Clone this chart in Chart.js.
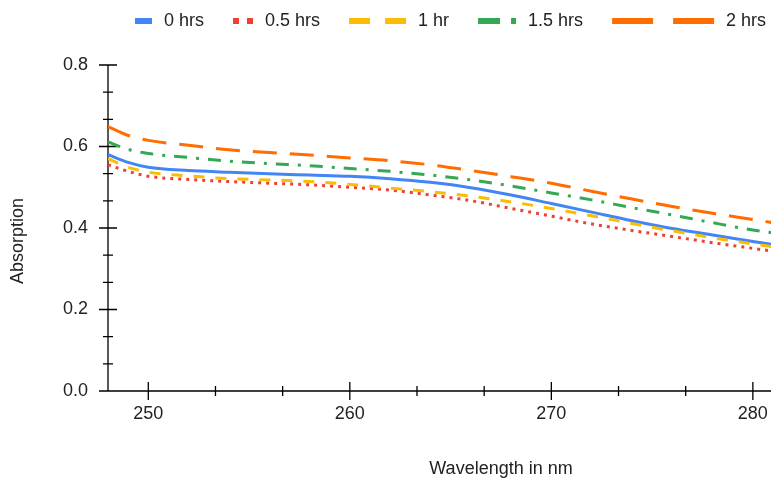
<!DOCTYPE html>
<html><head><meta charset="utf-8">
<script src="https://cdn.jsdelivr.net/npm/chart.js@4"></script>
<style>html,body{margin:0;padding:0;background:#fff}canvas{display:block}</style>
</head><body>
<canvas id="c" width="771" height="481"></canvas>
<script>
// ---- data ----
const wavelengths = [248, 249, 250, 252, 254, 256, 258, 260, 262, 264, 266, 268, 270, 272, 274, 276, 278, 280, 281];
const hrs0  = [0.580, 0.561, 0.549, 0.541, 0.537, 0.533, 0.530, 0.527, 0.521, 0.512, 0.499, 0.481, 0.460, 0.439, 0.418, 0.399, 0.383, 0.367, 0.359];
const hrs05 = [0.555, 0.539, 0.527, 0.519, 0.514, 0.510, 0.506, 0.500, 0.493, 0.481, 0.467, 0.448, 0.429, 0.410, 0.394, 0.379, 0.364, 0.350, 0.343];
const hrs1  = [0.570, 0.549, 0.537, 0.528, 0.521, 0.518, 0.514, 0.507, 0.498, 0.489, 0.478, 0.464, 0.448, 0.430, 0.411, 0.393, 0.376, 0.361, 0.354];
const hrs15 = [0.611, 0.593, 0.583, 0.573, 0.564, 0.558, 0.553, 0.546, 0.539, 0.530, 0.518, 0.503, 0.486, 0.469, 0.450, 0.432, 0.413, 0.395, 0.388];
const hrs2  = [0.649, 0.627, 0.615, 0.603, 0.592, 0.585, 0.579, 0.572, 0.565, 0.555, 0.541, 0.526, 0.510, 0.490, 0.471, 0.453, 0.436, 0.421, 0.413];
const seriesLabels = ['0 hrs', '0.5 hrs', '1 hr', '1.5 hrs', '2 hrs'];
const xTickLabels = [250, 260, 270, 280];
const yTickLabels = [0, 0.2, 0.4, 0.6, 0.8];
const xTitle = 'Wavelength in nm';
const yTitle = 'Absorption';

// ---- styles ----
const FONT = "'Liberation Sans', Arial, sans-serif";
const TEXT = '#222';
const styles = [
  {color: '#4285F4', dash: [],            legendDash: [],             legendW: 17},
  {color: '#EA4335', dash: [3, 5],        legendDash: [6, 8],         legendW: 20},
  {color: '#FBBC04', dash: [11, 11],      legendDash: [21, 15],       legendW: 57},
  {color: '#34A853', dash: [13, 9, 3, 9], legendDash: [22, 11, 5, 11], legendW: 38},
  {color: '#FF6D01', dash: [24, 13],      legendDash: [41, 20],       legendW: 102}
];
const seriesValues = [hrs0, hrs05, hrs1, hrs15, hrs2];

const datasets = seriesValues.map((vals, i) => ({
  label: seriesLabels[i],
  data: wavelengths.map((w, j) => ({x: w, y: vals[j]})),
  borderColor: styles[i].color,
  backgroundColor: styles[i].color,
  borderWidth: 3,
  borderDash: styles[i].dash,
  borderCapStyle: 'butt',
  pointRadius: 0,
  fill: false,
  cubicInterpolationMode: 'monotone',
  order: seriesValues.length - i
}));

const decor = {
  id: 'decor',
  beforeDatasetsDraw(chart) {
    const {ctx, chartArea: a, scales: {x, y}} = chart;
    ctx.save();
    ctx.strokeStyle = '#000';
    ctx.lineWidth = 1.3;
    ctx.beginPath();
    const seg = (x1, y1, x2, y2) => { ctx.moveTo(x1, y1); ctx.lineTo(x2, y2); };
    seg(a.left, a.top, a.left, a.bottom);
    seg(a.left, a.bottom, a.right, a.bottom);
    const ys = yTickLabels[1] - yTickLabels[0];
    yTickLabels.forEach((v, i) => {
      const p = y.getPixelForValue(v);
      seg(a.left - 9, p, a.left + 9, p);
      if (i < yTickLabels.length - 1) {
        for (let k = 1; k < 3; k++) {
          const q = y.getPixelForValue(v + ys * k / 3);
          seg(a.left - 5, q, a.left + 5, q);
        }
      }
    });
    const xs = xTickLabels[1] - xTickLabels[0];
    xTickLabels.forEach((v, i) => {
      const p = x.getPixelForValue(v);
      seg(p, a.bottom - 9, p, a.bottom + 9);
      if (i < xTickLabels.length - 1) {
        for (let k = 1; k < 3; k++) {
          const q = x.getPixelForValue(v + xs * k / 3);
          seg(q, a.bottom - 5, q, a.bottom + 5);
        }
      }
    });
    ctx.stroke();
    ctx.restore();
  },
  afterDraw(chart) {
    const {ctx} = chart;
    ctx.save();
    ctx.font = `18px ${FONT}`;
    ctx.fillStyle = TEXT;
    ctx.textBaseline = 'middle';
    ctx.textAlign = 'left';
    // legend
    let cx = 135;
    const ly = 21;
    chart.data.datasets.forEach((ds, i) => {
      const st = styles[i];
      ctx.save();
      ctx.strokeStyle = ds.borderColor;
      ctx.lineWidth = 6;
      ctx.lineCap = 'butt';
      ctx.setLineDash(st.legendDash);
      ctx.beginPath();
      ctx.moveTo(cx, ly);
      ctx.lineTo(cx + st.legendW, ly);
      ctx.stroke();
      ctx.restore();
      cx += st.legendW + 12;
      ctx.fillText(ds.label, cx, ly + 0.5);
      cx += ctx.measureText(ds.label).width + 29;
    });
    // axis titles
    ctx.textAlign = 'center';
    ctx.fillText(xTitle, 501, 469);
    ctx.translate(18, 241);
    ctx.rotate(-Math.PI / 2);
    ctx.fillText(yTitle, 0, 0);
    ctx.restore();
  }
};

new Chart(document.getElementById('c'), {
  type: 'line',
  data: {datasets},
  options: {
    responsive: false,
    animation: false,
    devicePixelRatio: 1,
    layout: {padding: {top: 65, right: 0, bottom: 0, left: 0}},
    plugins: {legend: {display: false}, tooltip: {enabled: false}},
    scales: {
      x: {
        type: 'linear',
        min: 248,
        max: 280.9,
        afterBuildTicks: s => { s.ticks = xTickLabels.map(v => ({value: v})); },
        afterFit: s => { s.height = 90; s.paddingLeft = 0; s.paddingRight = 0; },
        grid: {display: false, drawTicks: false},
        border: {display: false},
        ticks: {
          autoSkip: false, maxRotation: 0, padding: 12,
          color: TEXT, font: {family: FONT, size: 18},
          callback: v => String(Math.round(v))
        }
      },
      y: {
        type: 'linear',
        min: 0,
        max: 0.8,
        afterBuildTicks: s => { s.ticks = yTickLabels.map(v => ({value: v})); },
        afterFit: s => { s.width = 108; s.paddingTop = 0; s.paddingBottom = 0; },
        grid: {display: false, drawTicks: false},
        border: {display: false},
        ticks: {
          autoSkip: false, padding: 20,
          color: TEXT, font: {family: FONT, size: 18},
          callback: v => Number(v).toFixed(1)
        }
      }
    }
  },
  plugins: [decor]
});
</script>
</body></html>
